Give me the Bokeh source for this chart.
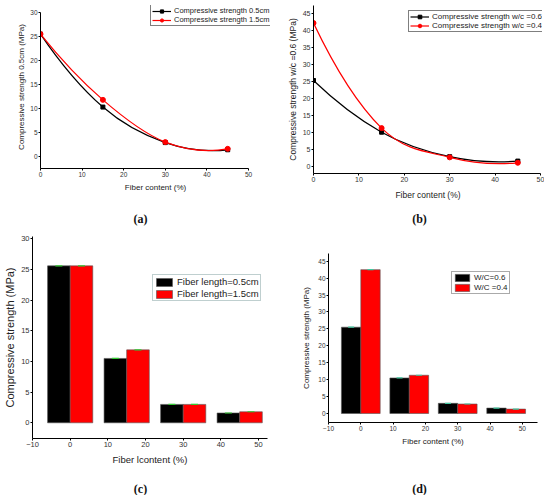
from bokeh.plotting import figure
from bokeh.models import (Legend, LegendItem, Label, Range1d, FixedTicker,
                          ColumnDataSource)
from bokeh.transform import dodge
from bokeh.layouts import column, row
from bokeh.embed import file_html
from bokeh.resources import INLINE

# ---------------- data ----------------
fiber = [0, 15, 30, 45]
x_ticks_ab = [0, 10, 20, 30, 40, 50]
x_ticks_cd = [-10, 0, 10, 20, 30, 40, 50]
y_ticks_30 = [0, 5, 10, 15, 20, 25, 30]
y_ticks_45 = [0, 5, 10, 15, 20, 25, 30, 35, 40, 45]

a_len05 = [25.5, 10.3, 2.9, 1.4]
a_len15 = [25.5, 11.8, 3.0, 1.6]
b_wc06 = [25.2, 10.0, 2.8, 1.5]
b_wc04 = [42.1, 11.2, 2.6, 1.0]
c_len05 = [25.6, 10.5, 3.0, 1.6]
c_len15 = [25.6, 11.9, 3.0, 1.8]
d_wc06 = [25.5, 10.5, 3.0, 1.6]
d_wc04 = [42.5, 11.3, 2.8, 1.3]

FONT = "Liberation Sans"


def smooth(xs, ys):
    """Bezier control points of a smooth curve through the data points."""
    n = len(xs)
    m = [0.0] * n
    for i in range(1, n - 1):
        m[i] = (ys[i + 1] - ys[i - 1]) / (xs[i + 1] - xs[i - 1])
    m[0] = 2 * (ys[1] - ys[0]) / (xs[1] - xs[0]) - m[1]
    m[-1] = 2 * (ys[-1] - ys[-2]) / (xs[-1] - xs[-2]) - m[-2]
    d = dict(x0=[], y0=[], x1=[], y1=[], cx0=[], cy0=[], cx1=[], cy1=[])
    for i in range(n - 1):
        h = xs[i + 1] - xs[i]
        d["x0"].append(xs[i]); d["y0"].append(ys[i])
        d["x1"].append(xs[i + 1]); d["y1"].append(ys[i + 1])
        d["cx0"].append(xs[i] + h / 3); d["cy0"].append(ys[i] + m[i] * h / 3)
        d["cx1"].append(xs[i + 1] - h / 3); d["cy1"].append(ys[i + 1] - m[i + 1] * h / 3)
    return ColumnDataSource(d)


def base(width, height, xr, yr, bl, br, bt, bb):
    p = figure(width=width, height=height, x_range=Range1d(*xr), y_range=Range1d(*yr),
               output_backend="svg", toolbar_location=None, title=None,
               min_border_left=bl, min_border_right=br, min_border_top=bt,
               min_border_bottom=bb, frame_align=False)
    p.xgrid.visible = False
    p.ygrid.visible = False
    p.outline_line_color = None
    p.background_fill_color = "white"
    p.border_fill_color = "white"
    return p


def style_axes(p, tick_size, xlab_size, ylab_size, xticks, yticks,
               xlabel, ylabel, x_stand, y_stand, tick_out=2):
    p.xaxis.ticker = FixedTicker(ticks=xticks)
    p.yaxis.ticker = FixedTicker(ticks=yticks)
    p.xaxis.axis_label = xlabel
    p.yaxis.axis_label = ylabel
    for ax in p.xaxis + p.yaxis:
        ax.axis_line_color = "black"
        ax.axis_line_width = 1
        ax.major_tick_line_color = "black"
        ax.minor_tick_line_color = None
        ax.major_tick_in = 0
        ax.major_tick_out = tick_out
        ax.major_label_standoff = 1
        ax.major_label_text_font = FONT
        ax.major_label_text_font_size = tick_size
        ax.major_label_text_color = "#333333"
        ax.axis_label_text_font = FONT
        ax.axis_label_text_font_style = "normal"
        ax.axis_label_text_color = "#222222"
    p.xaxis.axis_label_text_font_size = xlab_size
    p.yaxis.axis_label_text_font_size = ylab_size
    p.xaxis.axis_label_standoff = x_stand
    p.yaxis.axis_label_standoff = y_stand


def make_legend(items, loc, font_size, gw, gh, border="black", spacing=0):
    return Legend(items=items, location=loc, label_text_font=FONT,
                  label_text_font_size=font_size, label_text_color="#222222",
                  glyph_width=gw, glyph_height=gh, label_height=gh,
                  label_standoff=3, spacing=spacing, padding=1, margin=0,
                  border_line_color=border, border_line_width=1,
                  background_fill_color="white", background_fill_alpha=1)


def line_panel(p, s1, s2, lab1, lab2, loc, font_size, gh):
    items = []
    for ys, col, mk, size, lab in ((s1, "black", "square", 4, lab1),
                                   (s2, "#ff0000", "circle", 5, lab2)):
        p.bezier(x0="x0", y0="y0", x1="x1", y1="y1", cx0="cx0", cy0="cy0",
                 cx1="cx1", cy1="cy1", source=smooth(fiber, ys),
                 line_color=col, line_width=1.2)
        ghost = p.line(fiber, ys, line_color=col, line_width=1.2, visible=False)
        pts = p.scatter(fiber, ys, marker=mk, size=size, fill_color=col, line_color=col)
        items.append(LegendItem(label=lab, renderers=[ghost, pts]))
    p.add_layout(make_legend(items, loc, font_size, 19, gh))


def bar_panel(p, s1, s2, lab1, lab2, loc, font_size, gw, gh, cap_col, border, cap_size):
    src = ColumnDataSource(dict(x=fiber, s1=s1, s2=s2))
    r1 = p.vbar(x=dodge("x", -3, range=p.x_range), top="s1", width=6, bottom=0,
                source=src, fill_color="black", line_color="#555555", line_width=0.6)
    r2 = p.vbar(x=dodge("x", 3, range=p.x_range), top="s2", width=6, bottom=0,
                source=src, fill_color="#ff0000", line_color="#555555", line_width=0.6)
    p.scatter(x=dodge("x", -3, range=p.x_range), y="s1", source=src, marker="dash",
              size=cap_size, line_color=cap_col, line_width=1.2)
    p.scatter(x=dodge("x", 3, range=p.x_range), y="s2", source=src, marker="dash",
              size=cap_size, line_color=cap_col, line_width=1.2)
    items = [LegendItem(label=lab1, renderers=[r1]), LegendItem(label=lab2, renderers=[r2])]
    p.add_layout(make_legend(items, loc, font_size, gw, gh, border, spacing=1))


def caption_fig(width, height, letter, x, y):
    p = figure(width=width, height=height, x_range=Range1d(0, 1), y_range=Range1d(0, 1),
               x_axis_type=None, y_axis_type=None, output_backend="svg",
               toolbar_location=None, title=None, min_border=0, frame_align=False)
    p.grid.visible = False
    p.outline_line_color = None
    p.add_layout(Label(x=x, y=y, x_units="screen", y_units="screen",
                       text="(%s)" % letter, text_font="Liberation Serif",
                       text_font_size="12px", text_font_style="bold",
                       text_color="#111111", text_align="center",
                       text_baseline="middle"))
    return p


# ---------------- (a) ----------------
pa = base(284, 205, (0, 55.29), (-2.5, 31.46), 40, 14, 5, 37)
style_axes(pa, "6.5px", "8px", "8px", x_ticks_ab, y_ticks_30,
           "Fiber content (%)", "Compressive strength 0.5cm (MPa)", 3, 1)
pa.xaxis.bounds = (0, 50)
pa.yaxis.bounds = (-2.5, 30)
line_panel(pa, a_len05, a_len15, "Compressive strength 0.5cm",
           "Compressive strength 1.5cm", (110, 142), "7.5px", 8)

# ---------------- (b) ----------------
pb = base(260, 205, (0, 50.44), (-2.15, 47.26), 28, 2, 5, 32)
style_axes(pb, "7px", "8.5px", "8.5px", x_ticks_ab, y_ticks_45,
           "Fiber content (%)", "Compressive strength w/c =0.6 (MPa)", 5, 2)
pb.xaxis.bounds = (0, 50)
line_panel(pb, b_wc06, b_wc04, "Compressive strength w/c =0.6",
           "Compressive strength w/c =0.4", (95, 141), "8px", 9)

# ---------------- (c) ----------------
pc = base(284, 240, (-10, 52.38), (-2.56, 30.39), 32, 17, 8, 30)
style_axes(pc, "7.5px", "9.5px", "11px", x_ticks_cd, y_ticks_30,
           "Fiber lcontent (%)", "Compressive strength (MPa)", 4, 2)
bar_panel(pc, c_len05, c_len15, "Fiber length=0.5cm", "Fiber length=1.5cm",
          (120, 137), "9.5px", 20, 10, "#33cc33", "#7fa0a0", 7)

# ---------------- (d) ----------------
pd_ = base(260, 240, (-10, 54.7), (-2.66, 47.27), 44, 7, 25, 46)
style_axes(pd_, "6.5px", "8px", "8px", x_ticks_cd, y_ticks_45,
           "Fiber content (%)", "Compressive strength (MPa)", 3, 4)
bar_panel(pd_, d_wc06, d_wc04, "W/C=0.6", "W/C =0.4",
          (123, 128), "8px", 18, 9, "#40c8a0", "#555555", 6)

cap_a = caption_fig(284, 23, "a", 140, 10)
cap_b = caption_fig(260, 23, "b", 135, 10)
cap_c = caption_fig(284, 27, "c", 140, 7)
cap_d = caption_fig(260, 27, "d", 135, 7)

layout = column(row(pa, pb), row(cap_a, cap_b), row(pc, pd_), row(cap_c, cap_d))

open("out.html", "w").write(file_html(layout, INLINE))
